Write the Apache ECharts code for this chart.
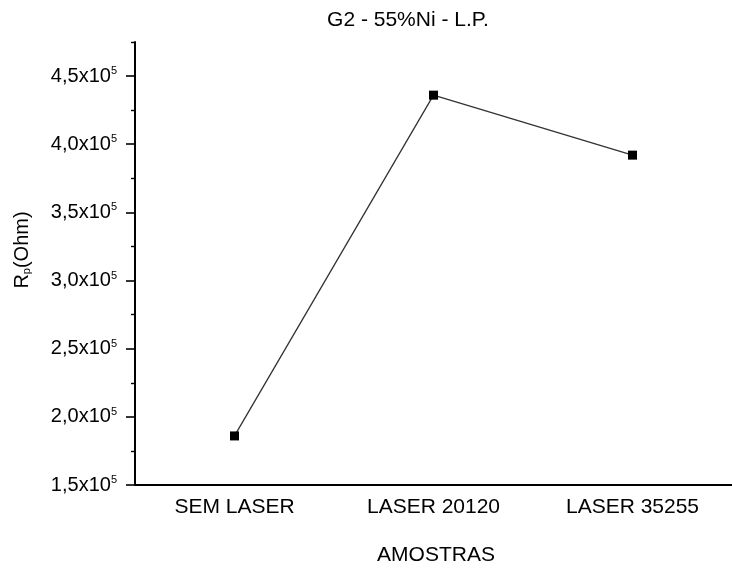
<!DOCTYPE html>
<html>
<head>
<meta charset="utf-8">
<script src="https://cdn.jsdelivr.net/npm/echarts@6/dist/echarts.min.js"></script>
<style>
  html, body { margin: 0; padding: 0; background: #fff; }
  #chart { width: 732px; height: 568px; }
</style>
</head>
<body>
<div id="chart"></div>
<script>
// Samples and their polarization resistance (Ohm)
var categories = ['SEM LASER', 'LASER 20120', 'LASER 35255'];
var rpValues = [1.86e5, 4.36e5, 3.92e5];

// Y axis: labelled major ticks and unlabelled minor ticks
var yMajorTicks = [1.5e5, 2.0e5, 2.5e5, 3.0e5, 3.5e5, 4.0e5, 4.5e5];
var yMinorTicks = [1.75e5, 2.25e5, 2.75e5, 3.25e5, 3.75e5, 4.25e5, 4.75e5];
var yMin = 1.5e5;
var yMax = 4.75e5;

var titleText = 'G2 - 55%Ni - L.P.';
var xAxisTitle = 'AMOSTRAS';

var FONT = '"Liberation Sans", Arial, sans-serif';
var INK = '#000';

function sciLabel(v) {
  var m = (v / 1e5).toFixed(1).replace('.', ',');
  return m + 'x10{sup|5}';
}

var chart = echarts.init(document.getElementById('chart'), null, { renderer: 'canvas' });

chart.setOption({
  backgroundColor: '#fff',
  animation: false,
  grid: { left: 135, right: -5, top: 42, bottom: 83, containLabel: false },
  xAxis: [
    {
      type: 'category',
      data: categories,
      boundaryGap: true,
      position: 'bottom',
      axisLine: { lineStyle: { color: INK, width: 2 } },
      axisTick: { alignWithLabel: true, length: 6, lineStyle: { color: INK, width: 1.6 } },
      axisLabel: { color: INK, fontFamily: FONT, fontSize: 21, margin: 12 },
      splitLine: { show: false }
    },
    {
      type: 'category',
      data: categories,
      boundaryGap: true,
      position: 'bottom',
      gridIndex: 0,
      axisLine: { show: false },
      axisTick: { alignWithLabel: false, length: 3, lineStyle: { color: INK, width: 1.4 } },
      axisLabel: { show: false },
      splitLine: { show: false }
    }
  ],
  yAxis: [
    {
      type: 'value',
      min: yMin,
      max: yMax,
      axisLine: { show: true, lineStyle: { color: INK, width: 2 } },
      axisTick: { show: true, length: 9, customValues: yMajorTicks, lineStyle: { color: INK, width: 1.6 } },
      axisLabel: {
        customValues: yMajorTicks,
        formatter: sciLabel,
        color: INK,
        fontFamily: FONT,
        fontSize: 20,
        margin: 18,
        rich: {
          sup: { fontFamily: FONT, fontSize: 11, color: INK, verticalAlign: 'top', padding: [0, 0, 10, 0] }
        }
      },
      splitLine: { show: false }
    },
    {
      type: 'value',
      min: yMin,
      max: yMax,
      position: 'left',
      axisLine: { show: false },
      axisTick: { show: true, length: 4, customValues: yMinorTicks, lineStyle: { color: INK, width: 1.4 } },
      axisLabel: { show: false },
      splitLine: { show: false }
    }
  ],
  series: [
    {
      type: 'line',
      data: rpValues,
      xAxisIndex: 0,
      yAxisIndex: 0,
      symbol: 'rect',
      symbolSize: 9,
      itemStyle: { color: '#000' },
      lineStyle: { color: '#333', width: 1.3 }
    }
  ],
  graphic: [
    {
      type: 'text',
      x: 408,
      y: 20,
      style: {
        text: titleText,
        font: '21px ' + FONT,
        fill: INK,
        align: 'center',
        verticalAlign: 'middle'
      }
    },
    {
      type: 'text',
      x: 436,
      y: 555,
      style: {
        text: xAxisTitle,
        font: '21px ' + FONT,
        fill: INK,
        align: 'center',
        verticalAlign: 'middle'
      }
    },
    {
      type: 'text',
      x: 22,
      y: 250,
      rotation: Math.PI / 2,
      style: {
        text: 'R{sub|p}(Ohm)',
        font: '20px ' + FONT,
        fill: INK,
        align: 'center',
        verticalAlign: 'middle',
        rich: {
          sub: { fontFamily: FONT, fontSize: 11, fill: INK, verticalAlign: 'bottom', padding: [8, 0, 0, 0] }
        }
      }
    }
  ]
});
</script>
</body>
</html>
